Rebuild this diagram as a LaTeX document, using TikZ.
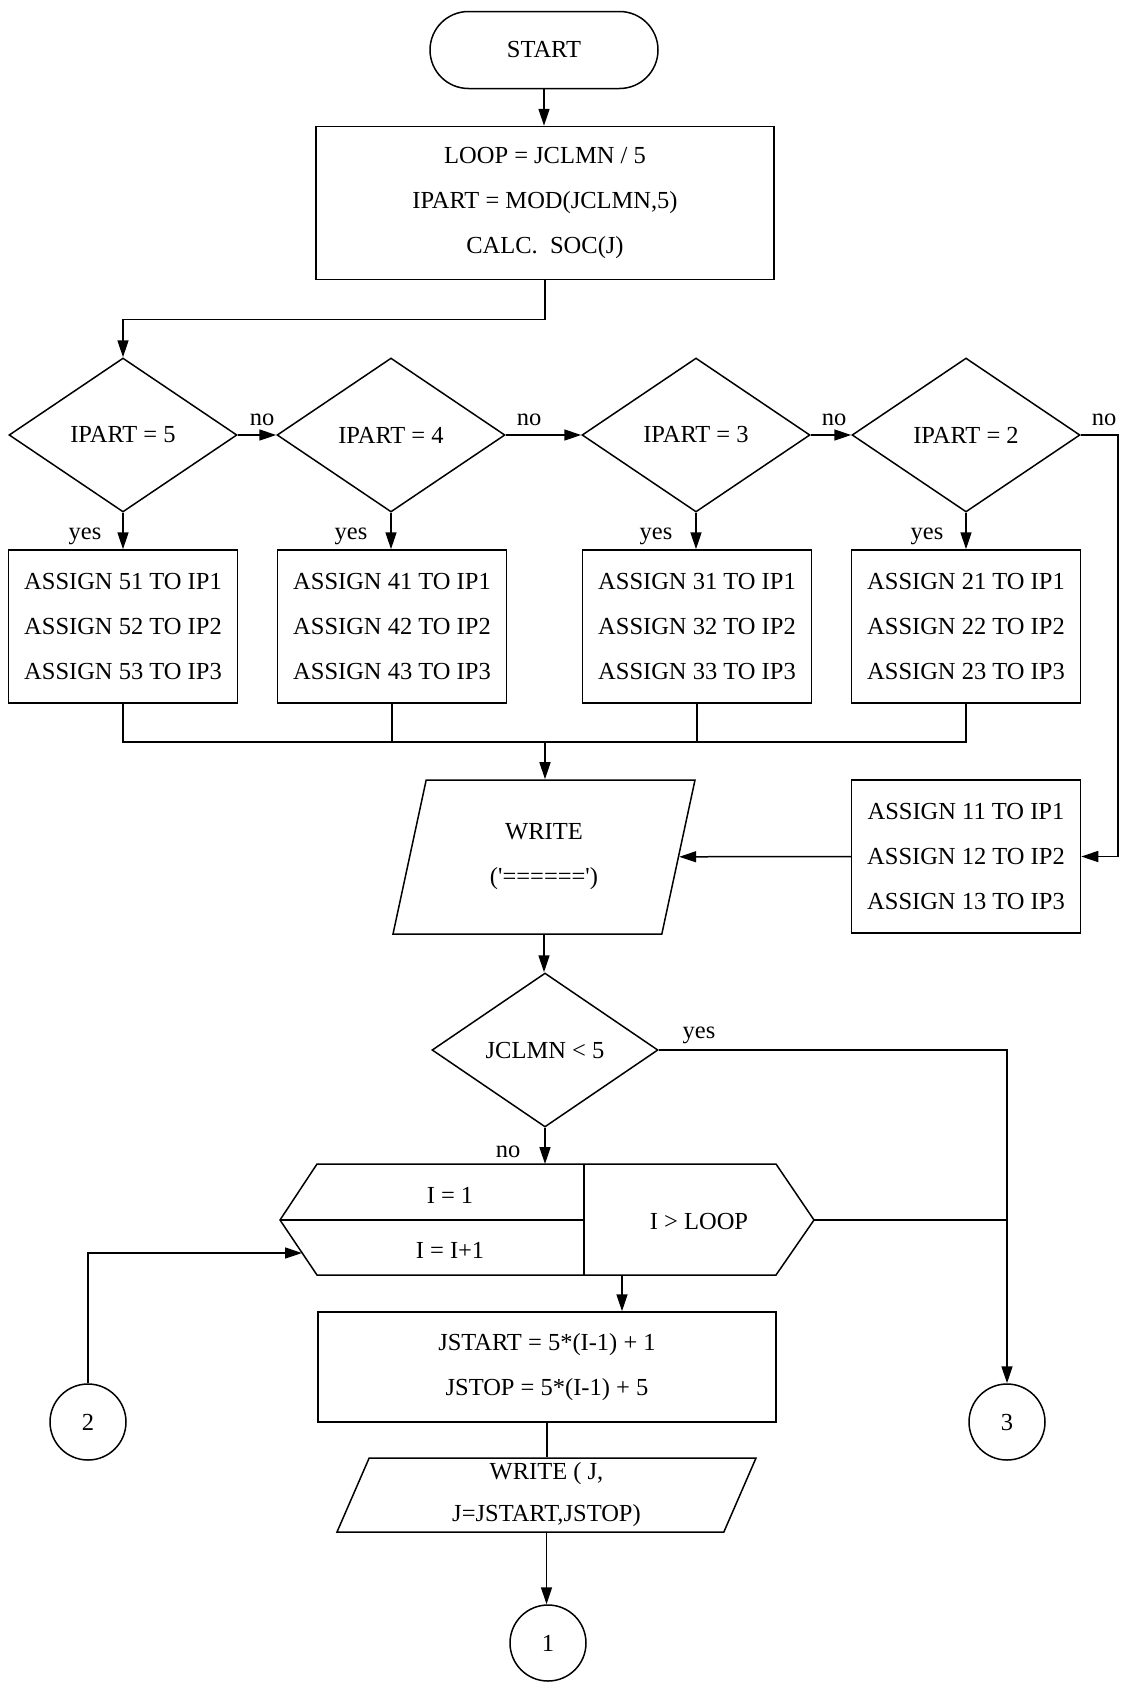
\documentclass[tikz,border=0pt]{standalone}
\usepackage{fontspec}
\setmainfont{Liberation Serif}
\usetikzlibrary{shapes.geometric,shapes.misc,arrows.meta}

\begin{document}
\begin{tikzpicture}[x=1pt,y=-1pt,
  every node/.style={font=\fontsize{24.5}{45}\selectfont, inner sep=0pt, align=center},
  line/.style={line width=1.5pt},
  arr/.style={line width=1.5pt, -{Triangle[length=17pt,width=11pt]}},
  term/.style={draw, line width=1.5pt, rounded rectangle, minimum width=228pt, minimum height=77pt},
  proc/.style={draw, line width=1.5pt, rectangle, minimum width=229pt, minimum height=153pt},
  dec/.style={draw, line width=1.5pt, diamond, minimum width=228pt, minimum height=154pt},
  io/.style={draw, line width=1.5pt, trapezium, trapezium left angle=63.4, trapezium right angle=116.6,
             trapezium stretches body},
  conn/.style={draw, line width=1.5pt, circle, minimum size=76pt},
  lbl/.style={font=\fontsize{24.5}{30}\selectfont}]

\useasboundingbox (0,0) rectangle (1121,1695);

% start and initialisation
\node[term] (start) at (544,50) {START};
\node[proc, minimum width=458pt] (init) at (545,203)
  {LOOP = JCLMN / 5\\IPART = MOD(JCLMN,5)\\CALC.\ \ SOC(J)};
\draw[arr] (start.south) -- (start.south |- init.north);

% IPART decisions
\node[dec] (d5) at (123,435) {IPART = 5};
\node[dec] (d4) at (391,435) {IPART = 4};
\node[dec] (d3) at (696,435) {IPART = 3};
\node[dec] (d2) at (966,435) {IPART = 2};

\draw[arr] (init.south) -- ++(0,39) -| (d5.north);
\draw[arr] (d5.east) -- (d4.west);
\draw[arr] (d4.east) -- (d3.west);
\draw[arr] (d3.east) -- (d2.west);

\node[lbl] (no5) at (262,420) {no};
\node[lbl] (no4) at (529,420) {no};
\node[lbl] (no3) at (834,420) {no};
\node[lbl] (no2) at (1104,420) {no};

% assignments
\node[proc] (a5) at (123,626.5) {ASSIGN 51 TO IP1\\ASSIGN 52 TO IP2\\ASSIGN 53 TO IP3};
\node[proc] (a4) at (392,626.5) {ASSIGN 41 TO IP1\\ASSIGN 42 TO IP2\\ASSIGN 43 TO IP3};
\node[proc] (a3) at (697,626.5) {ASSIGN 31 TO IP1\\ASSIGN 32 TO IP2\\ASSIGN 33 TO IP3};
\node[proc] (a2) at (966,626.5) {ASSIGN 21 TO IP1\\ASSIGN 22 TO IP2\\ASSIGN 23 TO IP3};
\node[proc] (a1) at (966,856.5) {ASSIGN 11 TO IP1\\ASSIGN 12 TO IP2\\ASSIGN 13 TO IP3};

\foreach \d/\a in {d5/a5,d4/a4,d3/a3,d2/a2} {
  \draw[arr] (\d.south) -- (\d.south |- \a.north);
}
\node[lbl] (y5) at (85,536) {yes};
\node[lbl] (y4) at (351,536) {yes};
\node[lbl] (y3) at (656,536) {yes};
\node[lbl] (y2) at (927,536) {yes};

% right-hand branch for IPART = 1
\coordinate (rside) at (1118,435);
\draw[arr] (d2.east) -- (rside) |- (a1.east);

% merge into the first write
\node[io, minimum width=302pt, minimum height=154pt] (w1) at (544,857)
  {WRITE\\(\textquotesingle======\textquotesingle)};
\coordinate (mj) at (545,742);
\draw[line] (a5.south) -- (a5.south |- mj) -- (a2.south |- mj) -- (a2.south);
\draw[line] (a4.south) -- (a4.south |- mj);
\draw[line] (a3.south) -- (a3.south |- mj);
\draw[arr] (mj) -- (mj |- w1.north);
\draw[arr] (a1.west) -- (w1);

% JCLMN test
\node[dec, minimum width=226pt] (jc) at (545,1050) {JCLMN < 5};
\draw[arr] (w1.south) -- (w1.south |- jc.north);
\node[lbl] (yj) at (699,1035) {yes};
\node[lbl] (nj) at (508,1152) {no};

% loop header
\coordinate (lpl) at (280,1220);
\coordinate (lptl) at (317,1164);
\coordinate (lptr) at (776,1164);
\coordinate (lpr) at (814,1220);
\coordinate (lpbr) at (776,1275);
\coordinate (lpbl) at (317,1275);
\coordinate (lpdt) at (584,1164);
\coordinate (lpdb) at (584,1275);
\coordinate (lpdm) at (584,1220);
\draw[line] (lpl) -- (lptl) -- (lptr) -- (lpr) -- (lpbr) -- (lpbl) -- cycle;
\draw[line] (lpdt) -- (lpdb);
\draw[line] (lpl) -- (lpdm);
\node (linit) at (450,1195) {I = 1};
\node (lstep) at (450,1250) {I = I+1};
\node (ltest) at (699,1221) {I {\char"003E} LOOP};
\coordinate (ltop) at (545,1164);
\draw[arr] (jc.south) -- (ltop);

% connectors
\node[conn] (c2) at (88,1422) {2};
\node[conn] (c3) at (1007,1422) {3};
\node[conn] (c1) at (548,1643) {1};

\coordinate (yjoin) at (1007,1220);
\draw[line] (jc.east) -| (yjoin);
\draw[line] (lpr) -- (yjoin);
\draw[arr] (yjoin) -- (c3.north);

\coordinate (lin) at (302,1253);
\draw[arr] (c2.north) |- (lin);

% loop body
\node[proc, minimum width=458pt, minimum height=110pt] (jst) at (547,1367)
  {JSTART = 5*(I-1) + 1\\JSTOP = 5*(I-1) + 5};
\coordinate (lout) at (622,1275);
\draw[arr] (lout) -- (lout |- jst.north);

\node[io, minimum width=419pt, minimum height=74pt,
      font=\fontsize{24.5}{42}\selectfont] (w2) at (546.5,1495)
  {WRITE ( J,\\J=JSTART,JSTOP)};
\draw[line] (jst.south) -- (jst.south |- w2.north);
\draw[arr] (w2.south) -- (w2.south |- c1.north);

\end{tikzpicture}
\end{document}
